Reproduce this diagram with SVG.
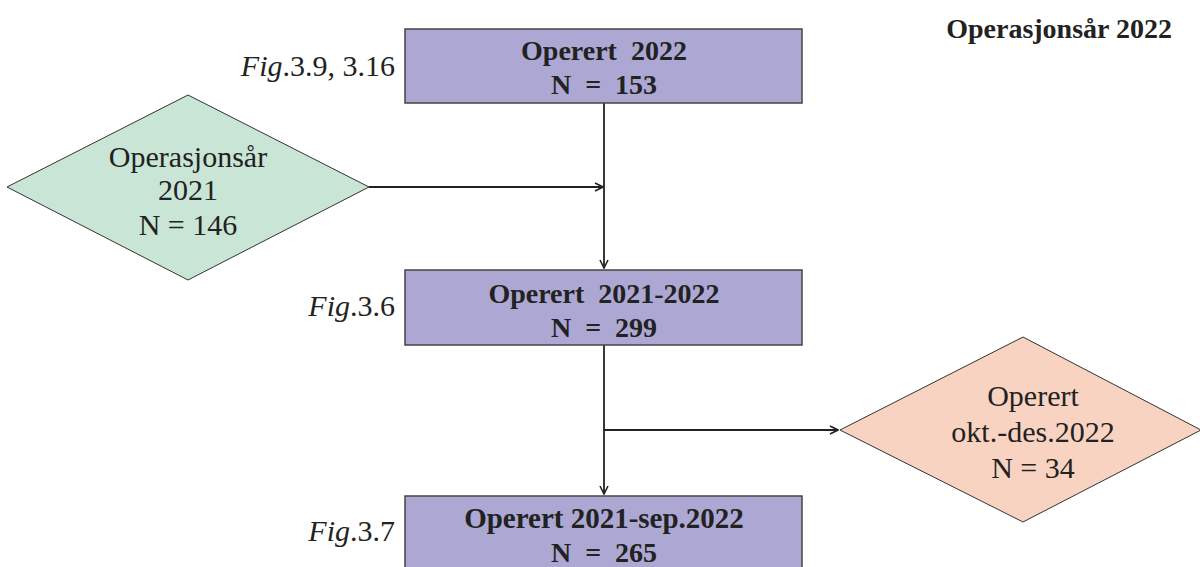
<svg xmlns="http://www.w3.org/2000/svg" width="1200" height="567" viewBox="0 0 1200 567">
<defs>
<marker id="ah" markerWidth="10" markerHeight="10" refX="9" refY="5" orient="auto" markerUnits="userSpaceOnUse">
<path d="M1,1 L9,5 L1,9" fill="none" stroke="#222" stroke-width="1.6"/>
</marker>
<style>
.box{fill:#aca8d3;stroke:#444;stroke-width:1.5}
.g{fill:#c9e5d5;stroke:#333;stroke-width:1}
.s{fill:#f9d3c1;stroke:#333;stroke-width:1}
text{font-family:"Liberation Serif","DejaVu Serif",serif;fill:#222;white-space:pre}
.bt{font-weight:bold;font-size:28px;text-anchor:middle}
.b3{font-size:29px}
.nt{font-weight:normal;font-size:30px;text-anchor:middle}
.fig{font-size:30px;text-anchor:end}
.c{stroke:#222;stroke-width:1.8;fill:none}
</style>
</defs>
<text class="bt" x="1172" y="38" text-anchor="end" font-family="Liberation Serif, serif" style="text-anchor:end">Operasjonsår 2022</text>
<g id="connectors">
<path class="c" d="M604,103 V268" marker-end="url(#ah)"/>
<path class="c" d="M369,187 H603" marker-end="url(#ah)"/>
<path class="c" d="M604,345 V494" marker-end="url(#ah)"/>
<path class="c" d="M604,430 H838" marker-end="url(#ah)"/>
</g>
<g id="box1" font-family="Liberation Serif, serif">
<rect class="box" x="405" y="29" width="397" height="74"/>
<text class="bt" x="604" y="60">Operert  2022</text>
<text class="bt" x="604" y="94">N  =  153</text>
<text class="fig" x="395" y="76"><tspan font-style="italic">Fig</tspan>.3.9, 3.16</text>
</g>
<g id="diamond1" font-family="Liberation Serif, serif">
<polygon class="g" points="7,187 188,95 369,187 188,280"/>
<text class="nt" x="188" y="167">Operasjonsår</text>
<text class="nt" x="188" y="200">2021</text>
<text class="nt" x="188" y="235">N = 146</text>
</g>
<g id="box2" font-family="Liberation Serif, serif">
<rect class="box" x="405" y="270" width="397" height="75"/>
<text class="bt" x="604" y="303">Operert  2021-2022</text>
<text class="bt" x="604" y="337">N  =  299</text>
<text class="fig" x="395" y="316"><tspan font-style="italic">Fig</tspan>.3.6</text>
</g>
<g id="diamond2" font-family="Liberation Serif, serif">
<polygon class="s" points="840,430 1023,337 1201,430 1023,522"/>
<text class="nt" x="1033" y="406">Operert</text>
<text class="nt" x="1033" y="442">okt.-des.2022</text>
<text class="nt" x="1033" y="478">N = 34</text>
</g>
<g id="box3" font-family="Liberation Serif, serif">
<rect class="box" x="405" y="496" width="397" height="80"/>
<text class="bt b3" x="604" y="528">Operert 2021-sep.2022</text>
<text class="bt" x="604" y="562">N  =  265</text>
<text class="fig" x="395" y="541"><tspan font-style="italic">Fig</tspan>.3.7</text>
</g>
</svg>
